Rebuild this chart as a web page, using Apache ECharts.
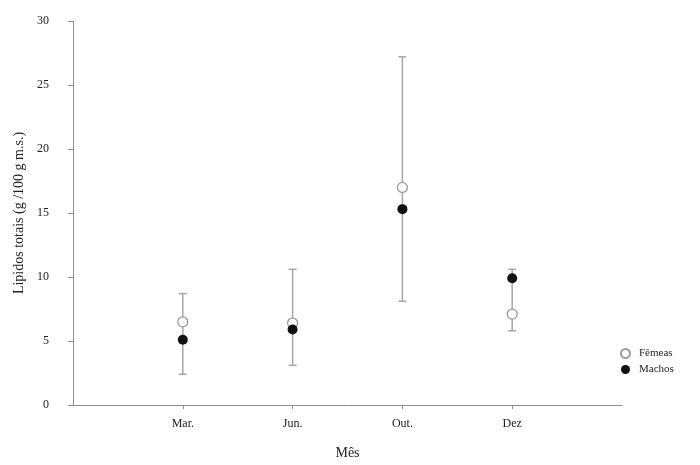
<!DOCTYPE html>
<html>
<head>
<meta charset="utf-8">
<script src="https://cdn.jsdelivr.net/npm/echarts@6/dist/echarts.min.js"></script>
<style>
  html, body { margin: 0; padding: 0; background: #fff; }
  #chart { width: 700px; height: 465px; }
</style>
</head>
<body>
<div id="chart"></div>
<script>
// Months sampled
const months = ['Mar.', 'Jun.', 'Out.', 'Dez'];
// Mean total lipids (g/100 g dry matter)
const femeas = [6.5, 6.4, 17.0, 7.1];
const machos = [5.1, 5.9, 15.3, 9.9];
// Error bar extents per month
const errLow = [2.4, 3.1, 8.1, 5.8];
const errHigh = [8.7, 10.6, 27.2, 10.6];
const yTicks = [0, 5, 10, 15, 20, 25, 30];

const serif = 'Liberation Serif';
const axisGrey = '#8c8c8c';

const chart = echarts.init(document.getElementById('chart'));

const pos = months.map((m, i) => i + 1);

chart.setOption({
  backgroundColor: '#fff',
  animation: false,
  textStyle: { fontFamily: serif },
  grid: { left: 73, right: 78, top: 21, bottom: 60 },
  xAxis: {
    type: 'value',
    min: 0,
    max: months.length + 1,
    interval: 1,
    name: 'Mês',
    nameLocation: 'middle',
    nameGap: 41,
    nameTextStyle: { fontFamily: serif, fontSize: 14, color: '#222' },
    axisLine: { lineStyle: { color: axisGrey, width: 1 } },
    axisTick: { show: true, length: 4, customValues: pos, lineStyle: { color: axisGrey } },
    axisLabel: {
      customValues: pos,
      formatter: v => months[v - 1] || '',
      fontFamily: serif, fontSize: 12, color: '#222', margin: 13
    },
    splitLine: { show: false }
  },
  yAxis: {
    type: 'value',
    min: 0,
    max: 30,
    interval: 5,
    name: 'Lipidos totais (g /100 g m.s.)',
    nameLocation: 'middle',
    nameGap: 46,
    nameTextStyle: { fontFamily: serif, fontSize: 14, color: '#222' },
    axisLine: { show: true, lineStyle: { color: axisGrey, width: 1 } },
    axisTick: { show: true, length: 5, lineStyle: { color: axisGrey } },
    axisLabel: {
      formatter: v => (yTicks.includes(v) ? String(v) : ''),
      fontFamily: serif, fontSize: 12, color: '#222', margin: 24
    },
    splitLine: { show: false }
  },
  legend: {
    orient: 'vertical',
    left: 615,
    top: 343,
    itemWidth: 9,
    itemHeight: 9,
    itemGap: 5,
    textStyle: { fontFamily: serif, fontSize: 11, color: '#222', padding: [0, 0, 0, 4] },
    data: ['Fêmeas', 'Machos']
  },
  series: [
    {
      name: 'erro',
      type: 'custom',
      silent: true,
      z: 1,
      data: pos.map((x, i) => [x, errLow[i], errHigh[i]]),
      renderItem: (params, api) => {
        const x = api.value(0);
        const lo = api.coord([x, api.value(1)]);
        const hi = api.coord([x, api.value(2)]);
        const cap = 4;
        const style = { stroke: '#a6a6a6', lineWidth: 1.5 };
        return {
          type: 'group',
          children: [
            { type: 'line', shape: { x1: lo[0], y1: lo[1], x2: hi[0], y2: hi[1] }, style },
            { type: 'line', shape: { x1: hi[0] - cap, y1: hi[1], x2: hi[0] + cap, y2: hi[1] }, style },
            { type: 'line', shape: { x1: lo[0] - cap, y1: lo[1], x2: lo[0] + cap, y2: lo[1] }, style }
          ]
        };
      }
    },
    {
      name: 'Fêmeas',
      type: 'scatter',
      z: 2,
      symbol: 'circle',
      symbolSize: 10,
      itemStyle: { color: '#fff', borderColor: '#9a9a9a', borderWidth: 1.3, opacity: 1 },
      data: pos.map((x, i) => [x, femeas[i]])
    },
    {
      name: 'Machos',
      type: 'scatter',
      z: 3,
      symbol: 'circle',
      symbolSize: 10,
      itemStyle: { color: '#111', opacity: 1 },
      data: pos.map((x, i) => [x, machos[i]])
    }
  ]
});
</script>
</body>
</html>
